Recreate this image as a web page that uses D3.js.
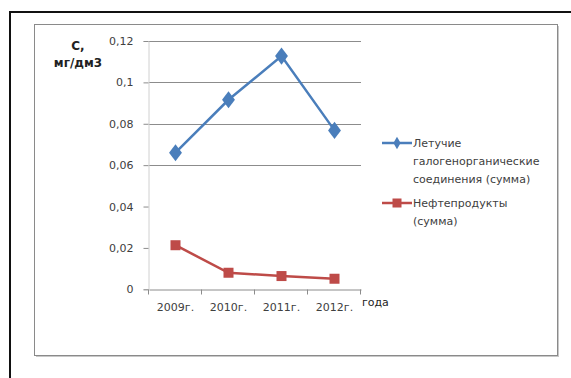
<!DOCTYPE html>
<html>
<head>
<meta charset="utf-8">
<script src="https://cdn.jsdelivr.net/npm/d3@7"></script>
<style>
  html, body { margin: 0; padding: 0; background: #fff; }
  svg { display: block; }
  text { font-family: "DejaVu Sans", sans-serif; }
</style>
</head>
<body>
<svg id="chart" width="571" height="378"></svg>
<script>
// Years on the horizontal axis
const years = ["2009г.", "2010г.", "2011г.", "2012г."];
// Concentration, mg/dm3
const volatileHalogenOrganics = [0.066, 0.0916, 0.1127, 0.0768];
const oilProducts = [0.0213, 0.008, 0.0064, 0.0051];
// Y axis ticks and the ones that carry a grid line
const yTicks = [0, 0.02, 0.04, 0.06, 0.08, 0.1, 0.12];
const gridTicks = [0.06, 0.08, 0.1, 0.12];
const seriesNames = [
  ["Летучие", "галогенорганические", "соединения (сумма)"],
  ["Нефтепродукты", "(сумма)"]
];

const svg = d3.select("#chart");

// Outer frame (top and left edges)
svg.append("line").attr("x1", 10).attr("x2", 571).attr("y1", 12).attr("y2", 12)
  .attr("stroke", "#111").attr("stroke-width", 2);
svg.append("line").attr("x1", 10).attr("x2", 10).attr("y1", 11).attr("y2", 378)
  .attr("stroke", "#111").attr("stroke-width", 2);

// Chart area box with a soft shadow on the right and bottom
svg.append("rect").attr("x", 36).attr("y", 26).attr("width", 523).attr("height", 331)
  .attr("fill", "#c8c8c8");
svg.append("rect").attr("x", 34.5).attr("y", 24.5).attr("width", 523).attr("height", 331)
  .attr("fill", "#fff").attr("stroke", "#8a8a8a").attr("stroke-width", 1);

const plot = { left: 149, right: 361, top: 41, bottom: 289.3 };

const x = d3.scaleBand().domain(years).range([plot.left, plot.right]);
const y = d3.scaleLinear().domain([0, 0.12]).range([plot.bottom, plot.top]);
const fmt = v => String(+v.toFixed(2)).replace(".", ",");

// Grid lines
svg.append("g").selectAll("line").data(gridTicks).join("line")
  .attr("x1", plot.left).attr("x2", plot.right)
  .attr("y1", d => Math.round(y(d)) + 0.5).attr("y2", d => Math.round(y(d)) + 0.5)
  .attr("stroke", "#8c8c8c").attr("stroke-width", 1);

// Y axis
const yAxis = svg.append("g").attr("transform", `translate(${plot.left - 0.5},0)`)
  .call(d3.axisLeft(y).tickValues(yTicks).tickFormat(fmt).tickSize(5).tickPadding(10));
yAxis.select(".domain").attr("stroke", "#d0d0d0");
yAxis.selectAll(".tick line").attr("stroke", "#8c8c8c");
yAxis.selectAll("text").attr("fill", "#404040").attr("font-size", 11);

// X axis
const xAxis = svg.append("g").attr("transform", `translate(0,${Math.round(plot.bottom) + 0.5})`)
  .call(d3.axisBottom(x).tickSize(0).tickPadding(14));
xAxis.select(".domain").attr("stroke", "#8c8c8c");
xAxis.selectAll("text").attr("fill", "#404040").attr("font-size", 11);
// category separators
const sep = years.map((d, i) => x(d)).concat([plot.right]);
xAxis.selectAll(".sep").data(sep).join("line").attr("class", "sep")
  .attr("x1", d => Math.round(d) - 0.5).attr("x2", d => Math.round(d) - 0.5)
  .attr("y1", 0).attr("y2", 5).attr("stroke", "#8c8c8c");

// Axis titles
svg.append("text").attr("x", 78).attr("y", 50).attr("text-anchor", "middle")
  .attr("font-size", 12).attr("font-weight", "bold").attr("fill", "#222").text("С,");
svg.append("text").attr("x", 78).attr("y", 67).attr("text-anchor", "middle")
  .attr("font-size", 12).attr("font-weight", "bold").attr("fill", "#222").text("мг/дм3");
svg.append("text").attr("x", 362).attr("y", 306)
  .attr("font-size", 11).attr("fill", "#222").text("года");

const cx = d => x(d) + x.bandwidth() / 2;
const line = d3.line().x((d, i) => cx(years[i])).y(d => y(d));

const blue = "#4a7ebb", red = "#be4b48";

// Series 1: volatile halogen-organic compounds
svg.append("path").datum(volatileHalogenOrganics).attr("d", line)
  .attr("fill", "none").attr("stroke", blue).attr("stroke-width", 2.5);
svg.append("g").selectAll("path").data(volatileHalogenOrganics).join("path")
  .attr("d", d3.symbol(d3.symbolDiamond, 85))
  .attr("transform", (d, i) => `translate(${cx(years[i])},${y(d)}) scale(1.3,1)`)
  .attr("fill", blue);

// Series 2: oil products
svg.append("path").datum(oilProducts).attr("d", line)
  .attr("fill", "none").attr("stroke", red).attr("stroke-width", 2.5);
svg.append("g").selectAll("rect").data(oilProducts).join("rect")
  .attr("x", (d, i) => cx(years[i]) - 5).attr("y", d => y(d) - 5)
  .attr("width", 10).attr("height", 10).attr("fill", red);

// Legend
const legend = [
  { color: blue, marker: "diamond", lines: seriesNames[0], y: 143 },
  { color: red, marker: "square", lines: seriesNames[1], y: 203 }
];
legend.forEach(l => {
  const g = svg.append("g");
  g.append("line").attr("x1", 382).attr("x2", 412).attr("y1", l.y).attr("y2", l.y)
    .attr("stroke", l.color).attr("stroke-width", 2.5);
  if (l.marker === "diamond") {
    g.append("path").attr("d", d3.symbol(d3.symbolDiamond, 45))
      .attr("transform", `translate(397,${l.y})`).attr("fill", l.color);
  } else {
    g.append("rect").attr("x", 392.5).attr("y", l.y - 4.5).attr("width", 9).attr("height", 9)
      .attr("fill", l.color);
  }
  l.lines.forEach((t, i) => {
    g.append("text").attr("x", 413).attr("y", l.y + 4 + i * 18)
      .attr("font-size", 11).attr("fill", "#404040").text(t);
  });
});
</script>
</body>
</html>
